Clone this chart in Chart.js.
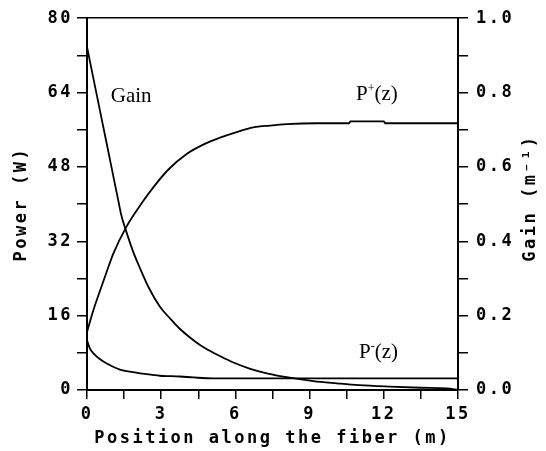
<!DOCTYPE html>
<html>
<head>
<meta charset="utf-8">
<script src="https://cdn.jsdelivr.net/npm/chart.js@4"></script>
<style>
  html, body { margin: 0; padding: 0; background: #fff; }
  canvas { display: block; }
</style>
</head>
<body>
<canvas id="chart_fiberPower" width="546" height="451"></canvas>
<script>
// values, x = position along the fiber (m)
var gainPosition = [0, 0.32, 0.59, 0.86, 1.1, 1.27, 1.38, 1.58, 1.85, 2.14, 2.5, 2.95, 3.35, 3.76, 4.15, 4.57, 5.0, 5.35, 5.92, 6.6, 7.27, 8.2, 9.15, 10.1, 11.0, 12.25, 13.5, 14.55, 15];
var gainValue = [0.923, 0.818, 0.730, 0.642, 0.563, 0.508, 0.472, 0.428, 0.375, 0.328, 0.275, 0.224, 0.193, 0.164, 0.142, 0.121, 0.104, 0.092, 0.074, 0.057, 0.045, 0.033, 0.024, 0.018, 0.013, 0.009, 0.006, 0.004, 0.0];

var pPlusPosition = [0, 0.26, 0.53, 0.8, 1.06, 1.58, 2.28, 2.68, 3.3, 4.03, 4.7, 5.38, 6.05, 6.73, 7.4, 8.07, 9.29, 10.6, 10.65, 12.0, 12.05, 15];
var pPlusValue = [12.5, 17.2, 21.4, 25.5, 29.3, 35.0, 40.7, 43.6, 47.5, 50.8, 52.8, 54.3, 55.5, 56.5, 56.9, 57.2, 57.4, 57.4, 57.8, 57.8, 57.4, 57.4];

var pMinusPosition = [0, 0.12, 0.26, 0.53, 0.8, 1.33, 1.87, 2.41, 2.95, 3.76, 4.3, 5.1, 15];
var pMinusValue = [10.7, 8.9, 7.9, 6.6, 5.7, 4.4, 3.85, 3.4, 3.07, 2.9, 2.7, 2.5, 2.5];

// curve annotations: text, superscript, tail, anchor (m, W)
var labelText = ['Gain', 'P', 'P'];
var labelSup = ['', '+', '-'];
var labelTail = ['', '(z)', '(z)'];
var labelX = [0.96, 10.88, 11.0];
var labelY = [62.0, 62.4, 6.8];

var monoFont = "'DejaVu Sans Mono', monospace";
var serifFont = "'Liberation Serif', 'DejaVu Serif', serif";
var spacing = '2.5px';

function toPoints(xs, ys) {
    return xs.map(function(x, i) { return { x: x, y: ys[i] }; });
}

var axisFont = { family: monoFont, size: 17, weight: 'bold' };

var chart_fiberPower = new Chart(document.getElementById('chart_fiberPower'), {
    type: 'line',
    data: {
        datasets: [
            {
                label: 'Gain',
                data: toPoints(gainPosition, gainValue),
                yAxisID: 'y1',
                borderColor: '#000',
                borderWidth: 1.8,
                pointRadius: 0,
                cubicInterpolationMode: 'monotone'
            },
            {
                label: 'P+(z)',
                data: toPoints(pPlusPosition, pPlusValue),
                yAxisID: 'y',
                borderColor: '#000',
                borderWidth: 1.8,
                pointRadius: 0,
                cubicInterpolationMode: 'monotone'
            },
            {
                label: 'P-(z)',
                data: toPoints(pMinusPosition, pMinusValue),
                yAxisID: 'y',
                borderColor: '#000',
                borderWidth: 1.8,
                pointRadius: 0,
                cubicInterpolationMode: 'monotone'
            }
        ]
    },
    options: {
        animation: false,
        responsive: false,
        layout: { padding: 0 },
        plugins: {
            legend: { display: false },
            tooltip: { enabled: false }
        },
        scales: {
            x: {
                type: 'linear',
                position: 'bottom',
                min: 0,
                max: 15,
                afterFit: function(scale) { scale.height = 61; },
                ticks: {
                    stepSize: 1.5,
                    autoSkip: false,
                    maxRotation: 0,
                    padding: 5,
                    color: '#000',
                    font: axisFont,
                    callback: function(value) {
                        return Math.round(value / 1.5) % 2 === 0 ? String(Math.round(value)) : '';
                    }
                },
                grid: { drawOnChartArea: false, tickLength: 9, color: '#000', lineWidth: 1.5 },
                border: { color: '#000', width: 2 },
                title: {
                    display: true,
                    text: 'Position along the fiber (m)',
                    color: '#000',
                    font: axisFont,
                    padding: { top: 0, bottom: 2 }
                }
            },
            xTop: {
                type: 'linear',
                position: 'top',
                min: 0,
                max: 15,
                afterFit: function(scale) { scale.height = 17; },
                ticks: { display: false },
                grid: { display: false },
                border: { color: '#000', width: 1.5 }
            },
            y: {
                type: 'linear',
                position: 'left',
                min: 0,
                max: 80,
                afterFit: function(scale) { scale.width = 87; },
                ticks: {
                    stepSize: 8,
                    autoSkip: false,
                    padding: 4,
                    color: '#000',
                    font: axisFont,
                    callback: function(value) {
                        return value % 16 === 0 ? String(value) : '';
                    }
                },
                grid: { drawOnChartArea: false, tickLength: 10, color: '#000', lineWidth: 1.5 },
                border: { color: '#000', width: 2 },
                title: {
                    display: true,
                    text: 'Power (W)',
                    color: '#000',
                    font: axisFont,
                    padding: { top: 11, bottom: 0 }
                }
            },
            y1: {
                type: 'linear',
                position: 'right',
                min: 0,
                max: 1,
                afterFit: function(scale) { scale.width = 88; },
                ticks: {
                    stepSize: 0.1,
                    autoSkip: false,
                    padding: 8,
                    color: '#000',
                    font: axisFont,
                    callback: function(value) {
                        return Math.round(value * 10) % 2 === 0 ? value.toFixed(1) : '';
                    }
                },
                grid: { drawOnChartArea: false, tickLength: 10, color: '#000', lineWidth: 1.5 },
                border: { color: '#000', width: 2 }
            }
        }
    },
    plugins: [{
        id: 'fiberText',
        beforeDraw: function(chart) {
            var ctx = chart.ctx;
            ctx.save();
            ctx.fillStyle = '#fff';
            ctx.fillRect(0, 0, chart.width, chart.height);
            ctx.restore();
            // wide bitmap-like axis lettering
            ctx.letterSpacing = spacing;
        },
        afterDraw: function(chart) {
            var ctx = chart.ctx;
            var xs = chart.scales.x, ys = chart.scales.y, y1 = chart.scales.y1;

            // right axis title reads bottom to top like the left one
            ctx.save();
            ctx.letterSpacing = spacing;
            ctx.fillStyle = '#000';
            ctx.font = 'bold 17px ' + monoFont;
            ctx.textAlign = 'center';
            ctx.textBaseline = 'middle';
            ctx.translate(y1.right - 15, (y1.top + y1.bottom) / 2 - 6);
            ctx.rotate(-Math.PI / 2);
            ctx.fillText('Gain (m\u207B\u00B9)', 0, 0);
            ctx.restore();

            // curve annotations
            ctx.save();
            ctx.letterSpacing = '0px';
            ctx.fillStyle = '#000';
            ctx.textBaseline = 'alphabetic';
            ctx.textAlign = 'left';
            for (var i = 0; i < labelText.length; i++) {
                var px = xs.getPixelForValue(labelX[i]);
                var py = ys.getPixelForValue(labelY[i]);
                ctx.font = '21px ' + serifFont;
                ctx.fillText(labelText[i], px, py);
                px += ctx.measureText(labelText[i]).width;
                if (labelSup[i]) {
                    ctx.font = '12px ' + serifFont;
                    ctx.fillText(labelSup[i], px, py - 8);
                    px += ctx.measureText(labelSup[i]).width;
                }
                if (labelTail[i]) {
                    ctx.font = '21px ' + serifFont;
                    ctx.fillText(labelTail[i], px, py);
                }
            }
            ctx.restore();
        }
    }]
});
</script>
</body>
</html>
